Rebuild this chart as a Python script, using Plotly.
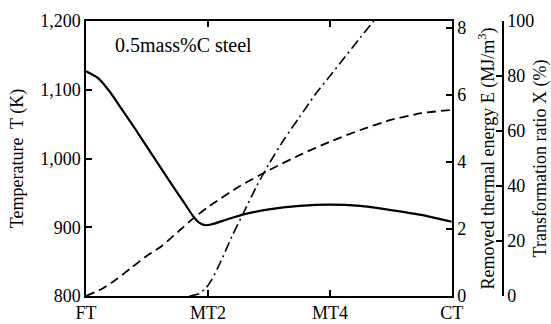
import plotly.graph_objects as go

# ---- data ----
stage_pos = [0, 2, 4, 6]
stage_labels = ["FT", "MT2", "MT4", "CT"]

temp_x = [0, 0.2, 0.4, 0.6, 0.8, 1.0, 1.2, 1.4, 1.6, 1.75, 1.85, 1.95, 2.05, 2.3, 2.6, 3.0, 3.5, 4.0, 4.5, 5.0, 5.5, 6.0]
temp_T = [1127, 1117, 1096, 1070, 1044, 1017, 990, 963, 937, 917, 907, 903, 904, 911, 919, 926, 931, 933, 931, 925, 918, 908]

energy_x = [0, 0.25, 0.5, 0.75, 1.0, 1.25, 1.5, 1.75, 2.0, 2.5, 3.0, 3.5, 4.0, 4.5, 5.0, 5.5, 6.0]
energy_E = [0, 0.2, 0.5, 0.85, 1.2, 1.5, 1.9, 2.3, 2.65, 3.25, 3.75, 4.2, 4.6, 4.95, 5.25, 5.45, 5.55]

ratio_x = [1.7, 1.85, 1.97, 2.05, 2.2, 2.4, 2.6, 2.8, 3.0, 3.25, 3.5, 3.75, 4.0, 4.25, 4.5, 4.72]
ratio_X = [0, 0.8, 3, 5.5, 12, 22, 31, 40, 48, 57, 65, 73, 80, 87, 94, 100]

T_ticks = [800, 900, 1000, 1100, 1200]
E_ticks = [0, 2, 4, 6, 8]
X_ticks = [0, 20, 40, 60, 80, 100]

FONT = "Liberation Serif"
FS = 18

fig = go.Figure()
fig.add_trace(go.Scatter(x=temp_x, y=temp_T, mode="lines", line=dict(color="black", width=2.2, shape="spline", smoothing=0.5), yaxis="y", showlegend=False))
fig.add_trace(go.Scatter(x=energy_x, y=energy_E, mode="lines", line=dict(color="black", width=1.8, dash="9px,5px", shape="spline", smoothing=0.6), yaxis="y2", showlegend=False))
fig.add_trace(go.Scatter(x=ratio_x, y=ratio_X, mode="lines", line=dict(color="black", width=1.6, dash="10px,4px,2px,4px", shape="spline", smoothing=0.6), yaxis="y3", showlegend=False))

axis_common = dict(showgrid=False, zeroline=False, showline=True, linecolor="black", linewidth=1.5,
                   tickcolor="black", tickwidth=1.5, ticklen=6, automargin=False,
                   tickfont=dict(family=FONT, size=FS, color="black"))

fig.update_layout(
    width=551, height=324,
    margin=dict(l=86, r=10, t=21, b=28),
    paper_bgcolor="white", plot_bgcolor="white",
    font=dict(family=FONT, color="black", size=FS),
    xaxis=dict(range=[0, 6], domain=[0, 0.804], tickvals=stage_pos, ticktext=stage_labels,
               ticks="inside", mirror="ticks", **axis_common),
    yaxis=dict(range=[800, 1200], tickvals=T_ticks, tickformat=",d", ticks="inside",
               title=dict(text="Temperature  T (K)", font=dict(family=FONT, size=FS, color="black"), standoff=12),
               **axis_common),
    yaxis2=dict(range=[0, 8.2], tickvals=E_ticks, ticks="inside", side="right", overlaying="y", anchor="x",
                title=dict(text="Removed thermal energy E (MJ/m<sup>3</sup>)", font=dict(family=FONT, size=FS, color="black"), standoff=16),
                **axis_common),
    yaxis3=dict(range=[0, 100], tickvals=X_ticks, ticks="inside", side="right", overlaying="y", anchor="free",
                position=0.916,
                title=dict(text="Transformation ratio X (%)", font=dict(family=FONT, size=FS, color="black"), standoff=2),
                **axis_common),
    annotations=[dict(text="0.5mass%C steel", x=0.44, y=1165, xref="x", yref="y", xanchor="left", yanchor="middle",
                      showarrow=False, font=dict(family=FONT, size=20, color="black"))],
)

fig.write_html("out.html", config={"displayModeBar": False},
               post_script="document.body.style.margin='0';document.body.style.padding='0';")
